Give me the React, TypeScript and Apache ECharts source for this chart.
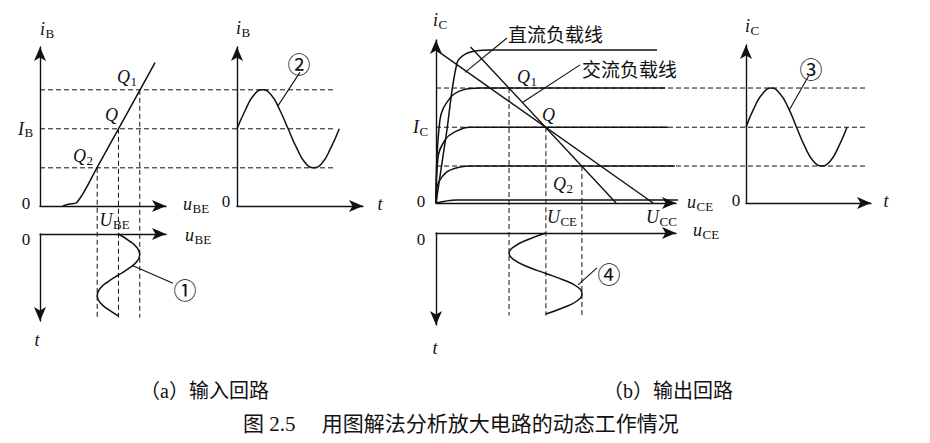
import React, { useEffect, useRef } from 'react';
import * as echarts from 'echarts';

// ---------------- data ----------------
// (a) input characteristic: i_B (uA) vs u_BE (V)
const inputCurveU = [0.17, 0.22, 0.275, 0.43, 0.59, 0.75, 0.865];
const inputCurveI = [0, 1.2, 2.0, 23.3, 46.5, 69.7, 86.4];
const ubeQ = [0.75, 0.59, 0.43]; // Q1, Q, Q2
const ibQ = [70, 46.5, 23];

// one period of the signals
const tPeriod = [0, 0.083, 0.167, 0.25, 0.333, 0.417, 0.5, 0.583, 0.667, 0.75, 0.833, 0.917, 1.0];
const ibWave = [46.5, 58, 67, 70, 67, 58, 46.5, 35, 26, 23, 26, 35, 46.5];
const ubeWave = [0.59, 0.67, 0.73, 0.75, 0.73, 0.67, 0.59, 0.51, 0.45, 0.43, 0.45, 0.51, 0.59];

// (b) output characteristics: i_C (mA) vs u_CE (V)
const outCurveU = [
  [0, 0.5, 1.02, 1.4, 2.0, 2.6, 10.74],
  [0, 0.19, 0.68, 1.31, 2.14, 11.13],
  [0, 0.1, 0.44, 0.83, 1.65, 11.27],
  [0, 0.05, 0.29, 0.68, 1.65, 11.61],
  [0, 0.44, 1.0, 11.76],
];
const outCurveI = [
  [0, 1.84, 3.75, 3.98, 4.08, 4.1, 4.1],
  [0, 2.22, 2.81, 3.03, 3.08, 3.08],
  [0, 1.23, 1.69, 1.88, 2.03, 2.03],
  [0, 0.43, 0.7, 0.88, 0.99, 0.99],
  [0, 0.05, 0.08, 0.08],
];
const dcLoadU = [0, 10.55];
const dcLoadI = [4.1, 0];
const acLoadU = [1.68, 8.75];
const acLoadI = [4.18, 0];
const uceQ = [3.55, 5.34, 7.09]; // Q1, Q, Q2
const icQ = [3.08, 2.03, 0.99];
const icWave = [2.03, 2.56, 2.94, 3.08, 2.94, 2.56, 2.03, 1.51, 1.12, 0.99, 1.12, 1.51, 2.03];
const uceWave = [5.34, 4.45, 3.8, 3.55, 3.8, 4.45, 5.34, 6.23, 6.88, 7.09, 6.88, 6.23, 5.34];
const uccValue = 10.55;

// ---------------- layout ----------------
const HALF = 7;
const INK = '#111';
const SERIF = '"Liberation Serif", "Times New Roman", serif';
const MIXED = '"Liberation Serif", "Noto Sans CJK SC", sans-serif';
const CJK = '"Noto Sans CJK SC", sans-serif';

function mk(ox: number, oy: number, xTip: number, yTip: number, xs: number, ys: number, down = false) {
  const width = xTip - HALF - ox;
  const height = down ? yTip - HALF - oy : oy - (yTip + HALF);
  return {
    grid: { left: ox, top: down ? oy : yTip + HALF, width, height, outerBoundsMode: 'none' },
    xMax: width / xs,
    yMax: height / ys,
    down,
  };
}

const G = [
  mk(40, 206, 173, 40, 133, 1.66),
  mk(237, 206, 370, 40, 102.3, 1.66),
  mk(40, 234, 173, 328, 133, 82, true),
  mk(436, 203, 683, 33, 20.58, 37.33),
  mk(746, 203, 878, 38, 101, 37.33),
  mk(436, 233, 683, 332, 20.58, 81, true),
];

const zip = (a: number[], b: number[]) => a.map((v, i) => [v, b[i]]);

function axisLine(startArrow: boolean) {
  return {
    show: true,
    onZero: false,
    symbol: startArrow ? ['arrow', 'none'] : ['none', 'arrow'],
    symbolSize: [9, 14],
    lineStyle: { color: INK, width: 1.4 },
  };
}

function line(gi: number, data: number[][], smooth: number | boolean = 0.5, width = 1.5) {
  return {
    type: 'line',
    xAxisIndex: gi,
    yAxisIndex: gi,
    data,
    smooth,
    showSymbol: false,
    clip: false,
    silent: true,
    lineStyle: { color: INK, width },
  };
}

function buildOption() {
  return {
    animation: false,
    backgroundColor: '#fff',
    grid: G.map((g) => g.grid),
    xAxis: G.map((g, i) => ({
      type: 'value',
      gridIndex: i,
      min: 0,
      max: g.xMax,
      position: g.down ? 'top' : 'bottom',
      axisLine: axisLine(false),
      axisTick: { show: false },
      axisLabel: { show: false },
      splitLine: { show: false },
    })),
    yAxis: G.map((g, i) => ({
      type: 'value',
      gridIndex: i,
      min: 0,
      max: g.yMax,
      inverse: g.down,
      position: 'left',
      axisLine: axisLine(g.down),
      axisTick: { show: false },
      axisLabel: { show: false },
      splitLine: { show: false },
    })),
    series: [
      line(0, zip(inputCurveU, inputCurveI), 0.3),
      line(1, zip(tPeriod, ibWave), true),
      line(2, zip(ubeWave, tPeriod), true),
      ...outCurveU.map((u, k) => line(3, zip(u, outCurveI[k]), 0.4)),
      line(3, zip(dcLoadU, dcLoadI), false, 1.4),
      line(3, zip(acLoadU, acLoadI), false, 1.4),
      line(4, zip(tPeriod, icWave), true),
      line(5, zip(uceWave, tPeriod), true),
    ],
  };
}

// ---------------- text helpers ----------------
let measureCtx: CanvasRenderingContext2D | null = null;
function textW(t: string, font: string) {
  if (!measureCtx) measureCtx = document.createElement('canvas').getContext('2d');
  measureCtx!.font = font;
  return measureCtx!.measureText(t).width;
}

function txt(x: number, y: number, text: string, font: string, align = 'left') {
  return {
    type: 'text',
    x,
    y,
    silent: true,
    z: 10,
    style: {
      text,
      font,
      fill: INK,
      align,
      textAlign: align,
      verticalAlign: 'middle',
      textVerticalAlign: 'middle',
    },
  };
}

function sym(x: number, cy: number, main: string, sub = '', italic = true, size = 18) {
  const mf = `${italic ? 'italic ' : ''}${size}px ${SERIF}`;
  const sf = `${Math.round(size * 0.74)}px ${SERIF}`;
  const out: any[] = [txt(x, cy, main, mf)];
  if (sub) out.push(txt(x + textW(main, mf) + 0.5, cy + 4, sub, sf));
  return out;
}

function seg(p1: number[], p2: number[], dashed: boolean) {
  return {
    type: 'line',
    silent: true,
    z: dashed ? 1 : 5,
    shape: { x1: p1[0], y1: p1[1], x2: p2[0], y2: p2[1] },
    style: { stroke: INK, lineWidth: dashed ? 1 : 1.1, lineDash: dashed ? [5, 3] : null, fill: 'none' },
  };
}

function buildGraphics(chart: any) {
  const px = (gi: number, v: number[]) => chart.convertToPixel({ gridIndex: gi }, v) as number[];
  const els: any[] = [];

  // (a) dashed guides
  ibQ.forEach((L) => els.push(seg(px(0, [0, L]), px(1, [0.94, L]), true)));
  ubeQ.forEach((u, k) => els.push(seg(px(0, [u, ibQ[k]]), px(2, [u, 1.02]), true)));
  // (b) dashed guides
  icQ.forEach((L) => els.push(seg(px(3, [0, L]), px(4, [1.19, L]), true)));
  uceQ.forEach((u, k) => els.push(seg(px(3, [u, icQ[k]]), px(5, [u, 1.02]), true)));

  // leaders
  els.push(seg(px(3, [1.41, 3.5]), px(3, [3.45, 4.42]), false));
  els.push(seg(px(3, [4.2, 2.69]), px(3, [7.0, 3.7]), false));
  els.push(seg(px(1, [0.4, 60.3]), px(1, [0.615, 80.5]), false));
  els.push(seg(px(4, [0.43, 2.5]), px(4, [0.62, 3.4]), false));
  els.push(seg(px(2, [0.69, 0.38]), px(2, [1.0, 0.6]), false));
  els.push(seg(px(5, [6.9, 0.64]), px(5, [7.82, 0.43]), false));

  const circ = `23px ${CJK}`;
  els.push(txt(185, 289, '①', circ, 'center'));
  els.push(txt(299, 63, '②', circ, 'center'));
  els.push(txt(811, 68, '③', circ, 'center'));
  els.push(txt(609, 273, '④', circ, 'center'));

  const zero = `17px ${SERIF}`;
  const tf = `italic 18px ${SERIF}`;

  // (a) labels
  const ib = px(0, [0, ibQ[1]]);
  const ube = px(0, [ubeQ[1], 0]);
  els.push(...sym(40, 29, 'i', 'B'));
  els.push(txt(26, 203, '0', zero, 'center'));
  els.push(...sym(183, 204, 'u', 'BE'));
  els.push(...sym(117, 77, 'Q', '1'));
  els.push(...sym(105, 115, 'Q'));
  els.push(...sym(73, 156, 'Q', '2'));
  els.push(...sym(18, ib[1], 'I', 'B'));
  els.push(...sym(ube[0] - 19, 220, 'U', 'BE'));
  els.push(...sym(236, 28, 'i', 'B'));
  els.push(txt(226, 201, '0', zero, 'center'));
  els.push(txt(380, 204, 't', tf, 'center'));
  els.push(txt(26, 239, '0', zero, 'center'));
  els.push(...sym(185, 235, 'u', 'BE'));
  els.push(txt(37, 340, 't', tf, 'center'));

  // (b) labels
  const ic = px(3, [0, icQ[1]]);
  const uce = px(3, [uceQ[1], 0]);
  const ucc = px(3, [uccValue, 0]);
  els.push(...sym(433, 20, 'i', 'C'));
  els.push(txt(421, 201, '0', zero, 'center'));
  els.push(...sym(687, 202, 'u', 'CE'));
  els.push(...sym(517, 77, 'Q', '1'));
  els.push(...sym(542, 115, 'Q'));
  els.push(...sym(553, 184, 'Q', '2'));
  els.push(...sym(413, ic[1], 'I', 'C'));
  els.push(...sym(uce[0] + 1, 217, 'U', 'CE'));
  els.push(...sym(ucc[0] - 7, 217, 'U', 'CC'));
  els.push(...sym(745, 26, 'i', 'C'));
  els.push(txt(736, 200, '0', zero, 'center'));
  els.push(txt(886, 201, 't', tf, 'center'));
  els.push(txt(421, 239, '0', zero, 'center'));
  els.push(...sym(693, 230, 'u', 'CE'));
  els.push(txt(435, 348, 't', tf, 'center'));

  els.push(txt(508, 33, '直流负载线', `19px ${CJK}`));
  els.push(txt(582, 68, '交流负载线', `19px ${CJK}`));

  // captions
  els.push(txt(140, 391, '（a）输入回路', `20px ${MIXED}`));
  els.push(txt(603, 391, '（b）输出回路', `20px ${MIXED}`));
  els.push(txt(243, 424, '图 2.5　 用图解法分析放大电路的动态工作情况', `21px ${MIXED}`));

  return els;
}

export default function App() {
  const ref = useRef<HTMLDivElement>(null);
  useEffect(() => {
    const chart = echarts.init(ref.current!, null, { renderer: 'svg' });
    chart.setOption(buildOption() as any);
    chart.setOption({ graphic: { elements: buildGraphics(chart) } } as any);
    return () => chart.dispose();
  }, []);
  return (
    <div
      ref={ref}
      style={{ position: 'fixed', left: 0, top: 0, width: 930, height: 443, background: '#fff' }}
    />
  );
}
